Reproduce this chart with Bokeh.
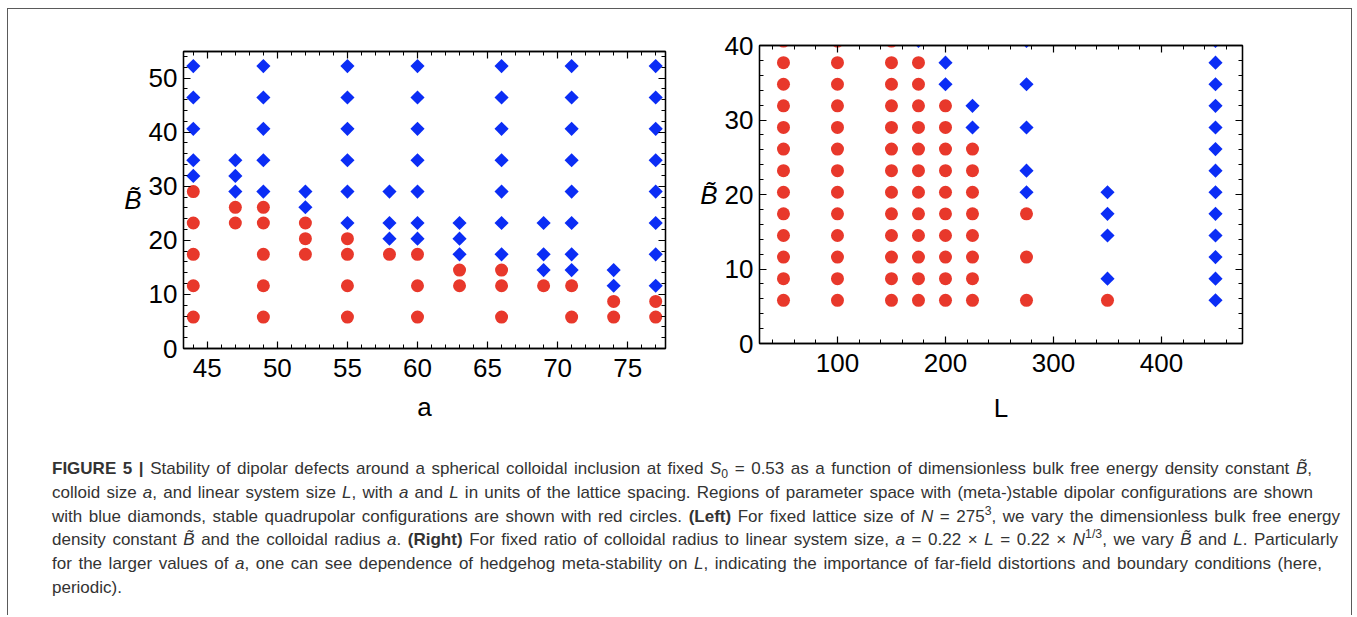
import numpy as np
from bokeh.plotting import figure
from bokeh.models import FixedTicker, LinearAxis, Range1d, Div, CustomLabelingPolicy
from bokeh.layouts import column, row
from bokeh.embed import file_html
from bokeh.resources import INLINE

# ---------------- data ----------------
# Left panel: colloid radius a (N = 275^3) vs B~
left_a = [44, 47, 49, 52, 55, 58, 60, 63, 66, 69, 71, 74, 77]
left_dipolar_B = [
    [52.2, 46.4, 40.6, 34.8, 31.9],
    [34.8, 31.9, 29.0],
    [52.2, 46.4, 40.6, 34.8, 29.0],
    [29.0, 26.1],
    [52.2, 46.4, 40.6, 34.8, 29.0, 23.2],
    [29.0, 23.2, 20.3],
    [52.2, 46.4, 40.6, 34.8, 29.0, 23.2, 20.3],
    [23.2, 20.3, 17.4],
    [52.2, 46.4, 40.6, 34.8, 29.0, 23.2, 17.4],
    [23.2, 17.4, 14.5],
    [52.2, 46.4, 40.6, 34.8, 29.0, 23.2, 17.4, 14.5],
    [14.5, 11.6],
    [52.2, 46.4, 40.6, 34.8, 29.0, 23.2, 17.4, 11.6],
]
left_quadrupolar_B = [
    [29.0, 23.2, 17.4, 11.6, 5.8],
    [26.1, 23.2],
    [26.1, 23.2, 17.4, 11.6, 5.8],
    [23.2, 20.3, 17.4],
    [20.3, 17.4, 11.6, 5.8],
    [17.4],
    [17.4, 11.6, 5.8],
    [14.5, 11.6],
    [14.5, 11.6, 5.8],
    [11.6],
    [11.6, 5.8],
    [8.7, 5.8],
    [8.7, 5.8],
]

# Right panel: linear system size L vs B~
right_L = [50, 100, 150, 175, 200, 225, 275, 350, 450]
right_dipolar_B = [
    [],
    [],
    [],
    [40.6],
    [37.7, 34.8],
    [31.9, 29.0],
    [40.6, 34.8, 29.0, 23.2, 20.3],
    [20.3, 17.4, 14.5, 8.7],
    [40.6, 37.7, 34.8, 31.9, 29.0, 26.1, 23.2, 20.3, 17.4, 14.5, 11.6, 8.7, 5.8],
]
right_quadrupolar_B = [
    [40.6, 37.7, 34.8, 31.9, 29.0, 26.1, 23.2, 20.3, 17.4, 14.5, 11.6, 8.7, 5.8],
    [40.6, 37.7, 34.8, 31.9, 29.0, 26.1, 23.2, 20.3, 17.4, 14.5, 11.6, 8.7, 5.8],
    [40.6, 37.7, 34.8, 31.9, 29.0, 26.1, 23.2, 20.3, 17.4, 14.5, 11.6, 8.7, 5.8],
    [37.7, 34.8, 31.9, 29.0, 26.1, 23.2, 20.3, 17.4, 14.5, 11.6, 8.7, 5.8],
    [31.9, 29.0, 26.1, 23.2, 20.3, 17.4, 14.5, 11.6, 8.7, 5.8],
    [26.1, 23.2, 20.3, 17.4, 14.5, 11.6, 8.7, 5.8],
    [17.4, 11.6, 5.8],
    [5.8],
    [],
]

left_x_major = [45, 50, 55, 60, 65, 70, 75]
left_y_major = [0, 10, 20, 30, 40, 50]
right_x_major = [100, 200, 300, 400]
right_y_major = [0, 10, 20, 30, 40]

RED = "#e8382b"
BLUE = "#0b2df5"
FONT = "Liberation Sans"

HIDE_LABELS = CustomLabelingPolicy(code="""
    for (const i of Array.from(indices)) indices.unset(i)
    return indices
""")


def flatten(xs, lists):
    xx, yy = [], []
    for x, ys in zip(xs, lists):
        for y in ys:
            xx.append(x)
            yy.append(y)
    return xx, yy


def style_axis(ax, major, minor, show_labels):
    ax.ticker = FixedTicker(ticks=major, minor_ticks=minor)
    ax.axis_line_color = "black"
    ax.axis_line_width = 1.3
    ax.major_tick_in = 7
    ax.major_tick_out = 0
    ax.minor_tick_in = 4
    ax.minor_tick_out = 0
    ax.major_tick_line_color = "black"
    ax.major_tick_line_width = 1.2
    ax.minor_tick_line_color = "black"
    ax.minor_tick_line_width = 1.0
    ax.major_label_text_font = FONT
    ax.major_label_text_color = "black"
    if show_labels:
        ax.major_label_text_font_size = "26px"
        ax.major_label_standoff = 10
    else:
        ax.major_label_text_font_size = "1px"
        ax.major_label_standoff = 0
        ax.major_label_policy = HIDE_LABELS
    ax.axis_label_text_font = FONT
    ax.axis_label_text_font_size = "26px"
    ax.axis_label_text_font_style = "normal"
    ax.axis_label_text_color = "black"


def make_panel(xr, yr, fw, fh, mbl, mbr, mbt, mbb, xmaj, xmin, ymaj, ymin, xlabel, xlab_standoff):
    p = figure(
        title=None,
        x_range=Range1d(*xr), y_range=Range1d(*yr),
        frame_width=fw, frame_height=fh,
        min_border_left=mbl, min_border_right=mbr,
        min_border_top=mbt, min_border_bottom=mbb,
        output_backend="svg", toolbar_location=None,
    )
    p.xgrid.visible = False
    p.ygrid.visible = False
    p.outline_line_color = "black"
    p.outline_line_width = 1.3
    p.background_fill_color = "white"
    p.border_fill_color = None

    style_axis(p.xaxis[0], xmaj, xmin, True)
    style_axis(p.yaxis[0], ymaj, ymin, True)
    p.xaxis[0].axis_label = xlabel
    p.xaxis[0].axis_label_standoff = xlab_standoff
    p.yaxis[0].axis_label = "B\u0303"
    p.yaxis[0].axis_label_orientation = "horizontal"
    p.yaxis[0].axis_label_text_font_style = "italic"
    p.yaxis[0].axis_label_standoff = 4
    p.yaxis[0].major_label_standoff = 6

    top = LinearAxis()
    style_axis(top, xmaj, xmin, False)
    p.add_layout(top, "above")
    right = LinearAxis()
    style_axis(right, ymaj, ymin, False)
    p.add_layout(right, "right")
    return p


# ---------------- left panel ----------------
p1 = make_panel((43.3, 77.7), (0, 54.9), 482, 297, 175, 25, 42, 92,
                left_x_major, list(range(44, 78)), left_y_major, list(range(0, 55, 2)), "a", 12)
qx, qy = flatten(left_a, left_quadrupolar_B)
dx, dy = flatten(left_a, left_dipolar_B)
p1.scatter(qx, qy, marker="circle", size=13, fill_color=RED, line_color=None)
p1.scatter(dx, dy, marker="square", angle=np.pi / 4, size=10, fill_color=BLUE, line_color=None)

# ---------------- right panel ----------------
p2 = make_panel((27.8, 475), (0, 40), 483, 298, 69, 109, 42, 91,
                right_x_major, list(range(40, 461, 20)), right_y_major, list(range(0, 41, 2)), "L", 18)
p2.styles = {"transform": "translateY(-6px)"}
qx, qy = flatten(right_L, right_quadrupolar_B)
dx, dy = flatten(right_L, right_dipolar_B)
p2.scatter(qx, qy, marker="circle", size=13, fill_color=RED, line_color=None)
p2.scatter(dx, dy, marker="square", angle=np.pi / 4, size=10, fill_color=BLUE, line_color=None)

# ---------------- caption ----------------
sub = '<sub style="font-size:0.72em;line-height:0;">'
sup = '<sup style="font-size:0.72em;line-height:0;">'
caption_lines = [
    ('<b>FIGURE 5 |</b> Stability of dipolar defects around a spherical colloidal inclusion at fixed '
     '<i>S</i>' + sub + '0</sub> = 0.53 as a function of dimensionless bulk free energy density constant <i>B\u0303</i>,', 1260),
    ('colloid size <i>a</i>, and linear system size <i>L</i>, with <i>a</i> and <i>L</i> in units of the lattice spacing. '
     'Regions of parameter space with (meta-)stable dipolar configurations are shown', 1261),
    ('with blue diamonds, stable quadrupolar configurations are shown with red circles. <b>(Left)</b> For fixed lattice size of '
     '<i>N</i> = 275' + sup + '3</sup>, we vary the dimensionless bulk free energy', 1288),
    ('density constant <i>B\u0303</i> and the colloidal radius <i>a</i>. <b>(Right)</b> For fixed ratio of colloidal radius to linear system size, '
     '<i>a</i> = 0.22 \u00d7 <i>L</i> = 0.22 \u00d7 <i>N</i>' + sup + '1/3</sup>, we vary <i>B\u0303</i> and <i>L</i>. Particularly', 1286),
    ('for the larger values of <i>a</i>, one can see dependence of hedgehog meta-stability on <i>L</i>, indicating the importance '
     'of far-field distortions and boundary conditions (here,', 1270),
]
inner = ""
for txt, w in caption_lines:
    inner += ('<div style="width:%dpx;text-align:justify;text-align-last:justify;height:23.8px;">%s</div>' % (w, txt))
inner += '<div style="height:23.8px;">periodic).</div>'
caption = (
    '<div style="font-family:\'Liberation Sans\',Arial,sans-serif;'
    'font-size:17px;line-height:23.8px;color:#333333;'
    'padding:17px 0 0 44px;">' + inner + '</div>'
)
div = Div(text=caption, width=1342, height=175, margin=(0, 0, 0, 0))

layout = column(
    row(p1, p2, margin=(0, 0, 0, 0)),
    div,
    margin=(8, 0, 0, 7),
    styles={"border-top": "1px solid #5a5a5a", "border-left": "1px solid #5a5a5a",
            "border-right": "1px solid #5a5a5a", "background": "white"},
)

open("out.html", "w").write(file_html(layout, INLINE))
